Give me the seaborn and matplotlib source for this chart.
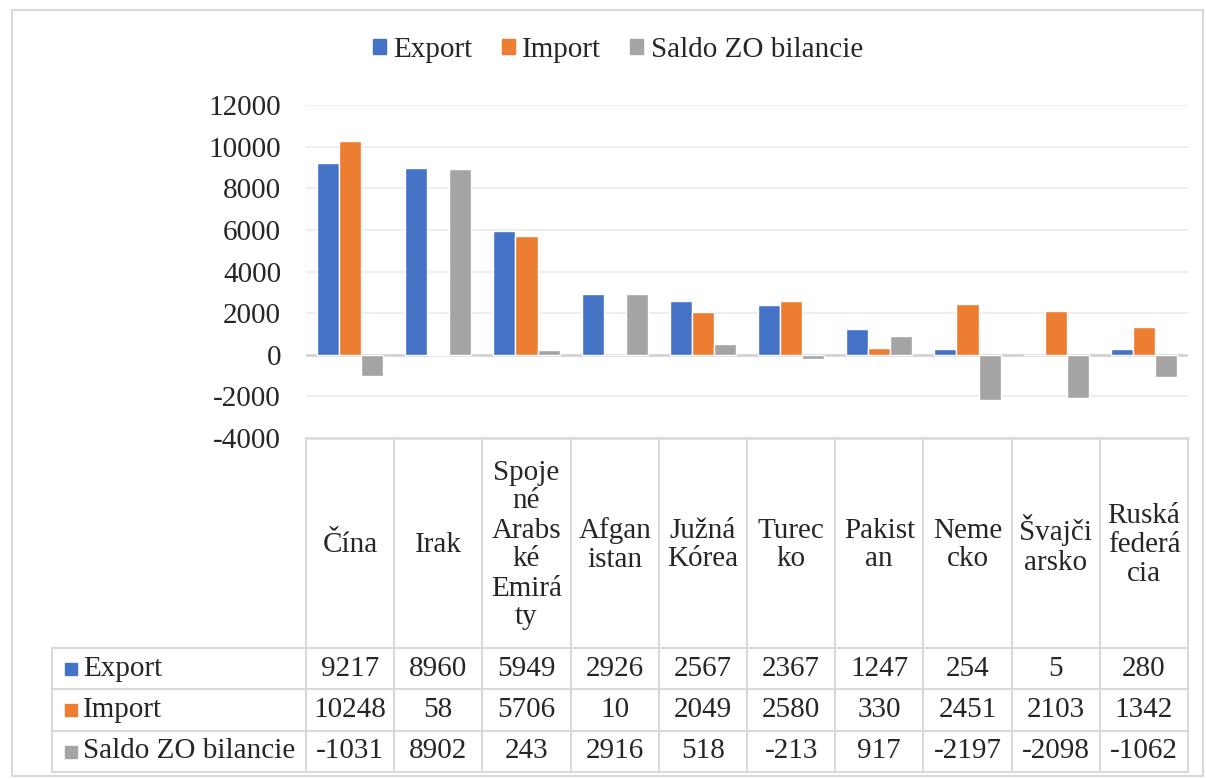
import numpy as np
import pandas as pd
import seaborn as sns
from matplotlib import pyplot as plt
from matplotlib import font_manager
from matplotlib.patches import Patch, Rectangle

countries = ["Čína", "Irak", "Spojené Arabské Emiráty", "Afganistan", "Južná Kórea",
             "Turecko", "Pakistan", "Nemecko", "Švajčiarsko", "Ruská federácia"]
header_labels = ["Čína", "Irak", "Spoje\nné\nArabs\nké\nEmirá\nty", "Afgan\nistan",
                 "Južná\nKórea", "Turec\nko", "Pakist\nan", "Neme\ncko",
                 "Švajči\narsko", "Ruská\nfederá\ncia"]
export = [9217, 8960, 5949, 2926, 2567, 2367, 1247, 254, 5, 280]
import_ = [10248, 58, 5706, 10, 2049, 2580, 330, 2451, 2103, 1342]
saldo = [-1031, 8902, 243, 2916, 518, -213, 917, -2197, -2098, -1062]
series = ["Export", "Import", "Saldo ZO bilancie"]
colors = ["#4472C4", "#ED7D31", "#A5A5A5"]

df = pd.DataFrame({
    "country": countries * 3,
    "series": np.repeat(series, len(countries)),
    "value": export + import_ + saldo,
})

sns.set_theme(style="white")
plt.rcParams['font.family'] = 'serif'
plt.rcParams['font.serif'] = ['Liberation Serif', 'DejaVu Serif']
plt.rcParams['axes.unicode_minus'] = False
fs = 21
line_c = "#D9D9D9"

W, H = 1206, 779
fig = plt.figure(figsize=(W / 100, H / 100), dpi=100)
left, right, top, bottom = 306, 1188, 105, 438
ax = fig.add_axes([left / W, 1 - bottom / H, (right - left) / W, (bottom - top) / H])

sns.barplot(data=df, x="country", y="value", hue="series", palette=colors,
            width=0.75, gap=0, saturation=1, legend=False, ax=ax, zorder=3)
ax.set_ylim(-4000, 12000)
ax.set_xlim(-0.5, len(countries) - 0.5)
ax.set_yticks(range(-4000, 12001, 2000))
ax.set_xticks([])
ax.set_xlabel("")
ax.set_ylabel("")
ax.tick_params(axis="y", length=0, pad=18, labelsize=fs)
for s in ax.spines.values():
    s.set_visible(False)
ax.grid(axis="y", color="#EBEBEB", lw=1.2, zorder=0)
ax.axhline(0, color="#D0D0D0", lw=1.8, zorder=2)

# overlay for the data table, in pixel coordinates
ov = fig.add_axes([0, 0, 1, 1])
ov.set_xlim(0, W)
ov.set_ylim(H, 0)
ov.axis("off")
ov.patch.set_alpha(0)

ov.add_patch(Rectangle((12, 10), 1191, 766, fill=False, edgecolor=line_c, lw=1.5))

n = len(countries)
col_w = (right - left) / n
rows = [648, 689, 731, 772]
label_left = 52
ov.plot([left, right], [bottom, bottom], color=line_c, lw=1.8)
for i in range(n + 1):
    x = left + i * col_w
    ov.plot([x, x], [bottom, rows[-1]], color=line_c, lw=1.5)
for y in rows:
    ov.plot([label_left, right], [y, y], color=line_c, lw=1.5)
ov.plot([label_left, label_left], [rows[0], rows[-1]], color=line_c, lw=1.5)

for i, lab in enumerate(header_labels):
    ov.text(left + (i + 0.5) * col_w, (bottom + rows[0]) / 2 + 2, lab, ha="center",
            va="center", multialignment="center", fontsize=fs, linespacing=1.15)

for r, (name, vals, c) in enumerate(zip(series, [export, import_, saldo], colors)):
    yc = (rows[r] + rows[r + 1]) / 2
    ov.add_patch(Rectangle((65, yc - 6), 12, 12, color=c))
    ov.text(83, yc, name, ha="left", va="center", fontsize=fs)
    for i, v in enumerate(vals):
        ov.text(left + (i + 0.5) * col_w, yc, str(v), ha="center", va="center", fontsize=fs)

handles = [Patch(color=c, label=s) for s, c in zip(series, colors)]
fig.legend(handles=handles, loc="center", bbox_to_anchor=(618 / W, 1 - 50 / H), ncol=3,
           frameon=False, fontsize=fs, handlelength=0.45, handleheight=0.45,
           handletextpad=0.25, columnspacing=1.0)

fig.savefig("out.png", dpi=100)
